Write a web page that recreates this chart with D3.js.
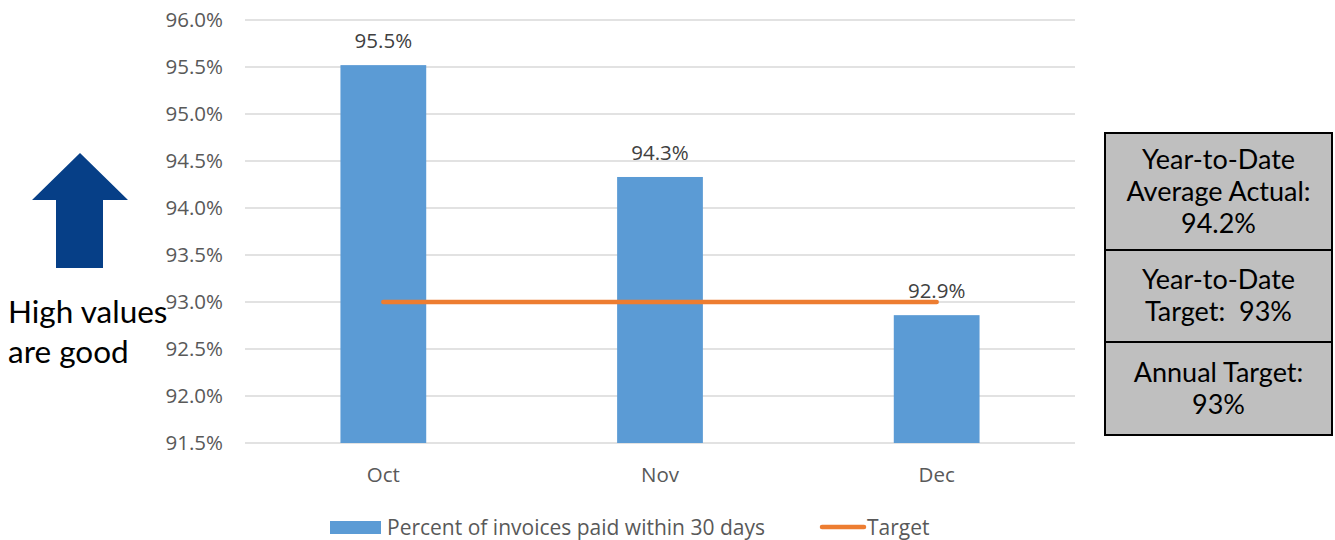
<!DOCTYPE html>
<html>
<head>
<meta charset="utf-8">
<script src="https://cdn.jsdelivr.net/npm/d3@7"></script>
<style>
  html, body { margin: 0; padding: 0; background: #fff; }
  svg { display: block; }
</style>
</head>
<body>
<svg id="chart" width="1335" height="540"></svg>
<script>
// Monthly share of invoices paid within 30 days
const months = ["Oct", "Nov", "Dec"];
const paidWithin30 = [95.52, 94.33, 92.86];
const targetValues = [93.0, 93.0, 93.0];
const yTicks = [91.5, 92.0, 92.5, 93.0, 93.5, 94.0, 94.5, 95.0, 95.5, 96.0];
const seriesNames = ["Percent of invoices paid within 30 days", "Target"];
const summaryLines = [
  ["Year-to-Date", "Average Actual:", "94.2%"],
  ["Year-to-Date", "Target:  93%"],
  ["Annual Target:", "93%"]
];

const svg = d3.select("#chart");
const chartFont = "'Open Sans', 'Noto Sans', sans-serif";
const noteFont = "Lato, 'Open Sans', sans-serif";
const fs = 20.5;

const plot = { left: 245, right: 1075, top: 20, bottom: 443 };

const x = d3.scaleBand().domain(months).range([plot.left, plot.right]).paddingInner(0.69).paddingOuter(0.345);
const y = d3.scaleLinear().domain([91.5, 96.0]).range([plot.bottom, plot.top]);

// Gridlines
svg.append("g")
  .selectAll("line")
  .data(yTicks)
  .join("line")
  .attr("x1", plot.left).attr("x2", plot.right)
  .attr("y1", d => y(d)).attr("y2", d => y(d))
  .attr("stroke", "#d9d9d9").attr("stroke-width", 1.5);

// Y axis labels
const yAxis = svg.append("g")
  .attr("transform", `translate(${plot.left - 22},0)`)
  .call(d3.axisLeft(y).tickValues(yTicks).tickFormat(d => d3.format(".1f")(d) + "%").tickSize(0).tickPadding(0));
yAxis.select(".domain").remove();
yAxis.selectAll("text")
  .attr("font-family", chartFont).attr("font-size", fs).attr("fill", "#595959");

// X axis labels
const xAxis = svg.append("g")
  .attr("transform", `translate(0,${plot.bottom + 24})`)
  .call(d3.axisBottom(x).tickSize(0).tickPadding(0));
xAxis.select(".domain").remove();
xAxis.selectAll("text")
  .attr("font-family", chartFont).attr("font-size", fs).attr("fill", "#595959");

// Bars
svg.append("g")
  .selectAll("rect")
  .data(months.map((m, i) => ({ m, v: paidWithin30[i] })))
  .join("rect")
  .attr("x", d => x(d.m)).attr("width", x.bandwidth())
  .attr("y", d => y(d.v)).attr("height", d => y(91.5) - y(d.v))
  .attr("fill", "#5b9bd5");

// Target line
const line = d3.line()
  .x((d, i) => x(months[i]) + x.bandwidth() / 2)
  .y(d => y(d));
svg.append("path")
  .datum(targetValues)
  .attr("d", line)
  .attr("fill", "none").attr("stroke", "#ed7d31")
  .attr("stroke-width", 4.5).attr("stroke-linecap", "round");

// Value labels
svg.append("g")
  .selectAll("text")
  .data(months.map((m, i) => ({ m, v: paidWithin30[i] })))
  .join("text")
  .attr("x", d => x(d.m) + x.bandwidth() / 2)
  .attr("y", d => y(d.v) - 17)
  .attr("text-anchor", "middle")
  .attr("font-family", chartFont).attr("font-size", fs).attr("fill", "#404040")
  .text(d => d3.format(".1f")(d.v) + "%");

// Legend
const legend = svg.append("g").attr("font-family", chartFont).attr("font-size", 21).attr("fill", "#595959");
legend.append("rect").attr("x", 330).attr("y", 521).attr("width", 51).attr("height", 13).attr("fill", "#5b9bd5");
legend.append("text").attr("x", 387).attr("y", 535).attr("fill", "#595959").text(seriesNames[0]);
legend.append("line").attr("x1", 822).attr("x2", 864).attr("y1", 527).attr("y2", 527)
  .attr("stroke", "#ed7d31").attr("stroke-width", 4.5).attr("stroke-linecap", "round");
legend.append("text").attr("x", 867).attr("y", 535).attr("fill", "#595959").text(seriesNames[1]);

// Direction arrow
svg.append("path")
  .attr("d", "M80,153 L128,200 L103,200 L103,268 L56,268 L56,200 L32,200 Z")
  .attr("fill", "#063f87");

svg.append("g")
  .attr("font-family", noteFont).attr("font-size", 31.5).attr("fill", "#000")
  .selectAll("text")
  .data(["High values", "are good"])
  .join("text")
  .attr("x", 8).attr("y", (d, i) => 323 + i * 40)
  .text(d => d);

// Summary box
const boxX = 1105, boxW = 227;
const rowEdges = [133, 250, 342, 435];
const box = svg.append("g");
summaryLines.forEach((lines, r) => {
  const y0 = rowEdges[r], y1 = rowEdges[r + 1];
  box.append("rect")
    .attr("x", boxX).attr("y", y0).attr("width", boxW).attr("height", y1 - y0)
    .attr("fill", "#bfbfbf").attr("stroke", "#000").attr("stroke-width", 2);
  const lh = 32;
  const cy = (y0 + y1) / 2;
  box.selectAll(null)
    .data(lines)
    .join("text")
    .attr("x", boxX + boxW / 2)
    .attr("y", (d, i) => cy + (i - (lines.length - 1) / 2) * lh + 9)
    .attr("text-anchor", "middle")
    .attr("font-family", noteFont).attr("font-size", 27).attr("fill", "#000")
    .style("white-space", "pre")
    .text(d => d);
});
</script>
</body>
</html>
